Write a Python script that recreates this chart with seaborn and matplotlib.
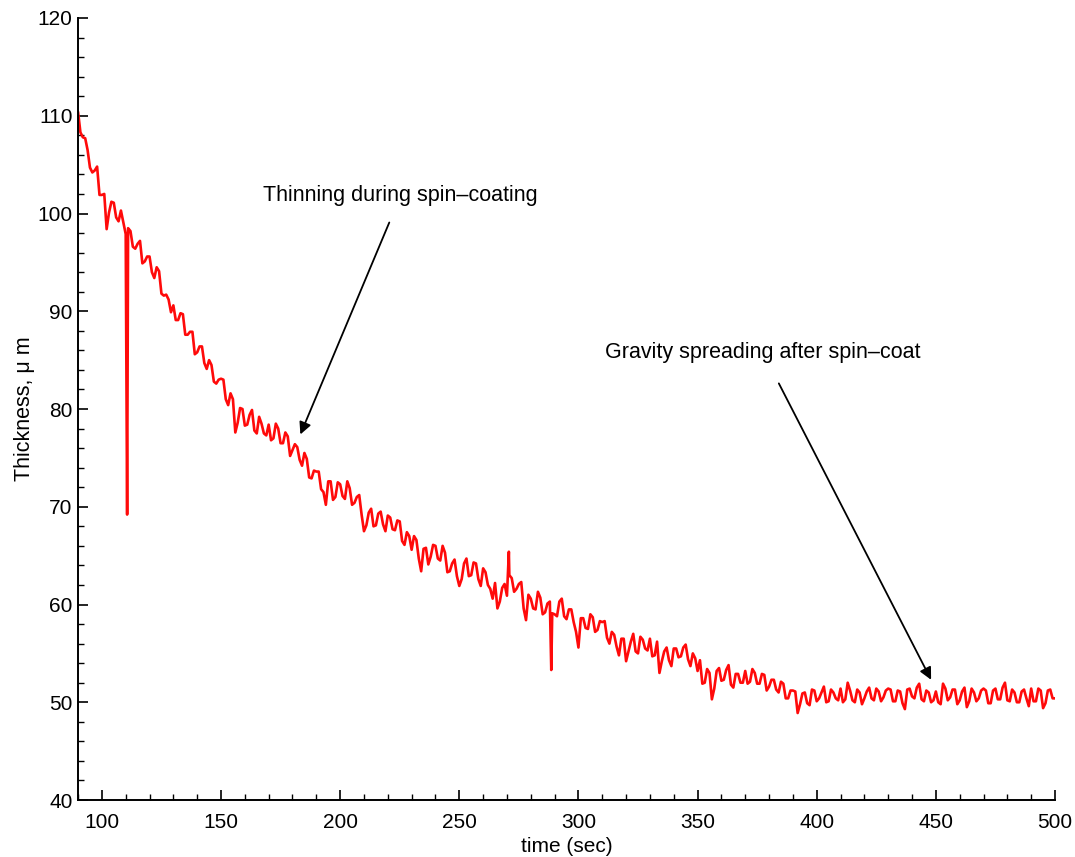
import numpy as np
import pandas as pd
import matplotlib
matplotlib.use("Agg")
import matplotlib.pyplot as plt
from matplotlib.ticker import MultipleLocator
import seaborn as sns

# ---- data (thickness in micrometres) ----
# samples at even seconds, 90 ... 500
t_even_start = 90
thickness_even = [
    110.4, 107.8, 106.5, 104.2, 104.8, 101.9, 98.4, 101.2, 99.6, 100.3,   # 90-108
    97.9, 98.2, 96.4, 97.2, 95.1, 95.6, 93.4, 94.1, 91.6, 91.2,          # 110-128
    90.6, 89.1, 89.7, 87.6, 87.9, 85.8, 86.4, 84.1, 84.5, 82.6,          # 130-148
    83.1, 81.0, 81.6, 77.6, 80.1, 78.3, 79.4, 77.8, 79.2, 77.5,          # 150-168
    78.4, 77.0, 78.0, 76.5, 77.2, 75.8, 76.1, 74.2, 74.9, 72.9,          # 170-188
    73.6, 71.8, 70.2, 72.6, 71.0, 72.3, 70.8, 71.9, 70.4, 71.2,          # 190-208
    67.5, 69.4, 68.0, 69.3, 68.2, 69.1, 67.7, 68.6, 66.5, 67.4,          # 210-228
    65.6, 66.6, 63.4, 65.8, 64.9, 66.0, 64.5, 65.3, 63.4, 64.6,          # 230-248
    61.9, 64.2, 62.9, 64.3, 62.6, 63.7, 62.0, 60.6, 59.6, 61.7,          # 250-268
    60.9, 62.7, 61.6, 62.3, 58.4, 60.6, 59.5, 60.7, 59.2, 60.3,          # 270-288
    59.0, 60.3, 58.8, 59.5, 58.2, 55.6, 58.6, 57.5, 58.7, 57.4,          # 290-308
    58.2, 56.6, 57.2, 55.7, 56.5, 54.2, 56.2, 55.2, 56.7, 55.5,          # 310-328
    56.5, 54.8, 53.0, 55.2, 54.3, 55.5, 54.6, 55.6, 54.4, 55.0,          # 330-348
    53.2, 51.9, 53.4, 50.3, 53.2, 52.2, 53.3, 51.8, 52.9, 52.0,          # 350-368
    53.2, 52.1, 53.0, 51.9, 52.8, 51.6, 52.3, 51.0, 51.9, 50.4,          # 370-388
    51.2, 48.9, 50.9, 49.9, 51.3, 50.1, 51.0, 50.0, 51.3, 50.4,          # 390-408
    51.4, 50.3, 51.2, 50.0, 51.0, 50.4, 51.5, 50.2, 51.1, 50.5,          # 410-428
    51.4, 50.1, 51.2, 49.9, 51.3, 50.6, 51.5, 50.3, 51.2, 50.0,          # 430-448
    51.1, 49.8, 51.4, 50.5, 51.3, 50.2, 51.5, 50.1, 51.0, 50.4,          # 450-468
    51.4, 49.9, 51.2, 50.3, 51.5, 50.2, 51.3, 50.0, 51.1, 50.4,          # 470-488
    51.4, 50.1, 51.2, 49.9, 51.3, 50.4,                                  # 490-500
]
# samples at odd seconds, 91 ... 499
t_odd_start = 91
thickness_odd = [
    108.3, 107.7, 104.7, 104.4, 101.9, 102.0, 100.1, 101.1, 99.2, 99.1,  # 91-109
    98.5, 96.6, 96.9, 94.9, 95.6, 94.0, 94.5, 91.8, 91.7, 89.9,          # 111-129
    89.1, 89.8, 87.6, 87.9, 85.6, 86.4, 84.7, 85.0, 82.8, 83.0,          # 131-149
    83.0, 80.4, 81.0, 78.6, 80.0, 78.4, 79.9, 77.5, 78.5, 77.3,          # 151-169
    76.8, 78.5, 76.5, 77.6, 75.2, 76.4, 74.8, 75.5, 73.0, 73.7,          # 171-189
    73.6, 71.5, 72.6, 70.7, 72.5, 71.1, 72.6, 70.2, 71.0, 69.2,          # 191-209
    68.1, 69.8, 68.1, 69.5, 67.5, 68.9, 67.6, 68.5, 66.1, 67.0,          # 211-229
    67.0, 64.7, 65.7, 64.1, 66.1, 64.7, 66.0, 63.3, 64.2, 62.9,          # 231-249
    62.6, 64.7, 63.0, 64.2, 61.9, 63.3, 61.6, 62.2, 60.3, 62.1,          # 251-269
    63.0, 61.3, 62.1, 59.6, 61.0, 59.6, 61.3, 59.0, 60.1, 59.1,          # 271-289
    58.8, 60.6, 58.5, 59.5, 57.2, 58.6, 57.6, 59.0, 57.2, 58.3,          # 291-309
    58.3, 56.0, 56.9, 54.8, 56.5, 55.2, 57.0, 55.0, 56.4, 55.3,          # 311-329
    54.7, 56.2, 54.2, 55.6, 53.7, 55.5, 54.7, 55.9, 53.7, 54.5,          # 331-349
    54.3, 52.0, 53.0, 51.4, 53.5, 52.3, 53.8, 51.5, 52.9, 52.0,          # 351-369
    51.9, 53.4, 51.9, 52.9, 51.2, 52.3, 51.3, 52.1, 50.4, 51.2,          # 371-389
    51.1, 49.8, 51.0, 49.7, 51.2, 50.4, 51.6, 50.1, 51.0, 50.2,          # 391-409
    50.0, 52.0, 50.2, 51.3, 49.8, 51.1, 50.4, 51.4, 50.1, 51.2,          # 411-429
    51.3, 50.1, 51.1, 49.3, 51.4, 50.4, 51.9, 50.1, 51.0, 50.2,          # 431-449
    50.0, 51.9, 50.2, 51.3, 49.8, 51.1, 49.5, 51.4, 50.1, 51.2,          # 451-469
    51.2, 49.9, 51.4, 50.3, 52.0, 50.1, 51.0, 50.0, 51.3, 49.6,          # 471-489
    50.1, 51.4, 49.4, 51.2, 50.4,                                        # 491-499
]
# single-sample spikes seen in the trace
spike_time = [110.6, 270.8, 288.6]
spike_value = [69.2, 65.4, 53.3]

x_ticks_major = [100, 150, 200, 250, 300, 350, 400, 450, 500]
y_ticks_major = [40, 50, 60, 70, 80, 90, 100, 110, 120]

label1 = "Thinning during spin\u2013coating"
label2 = "Gravity spreading after spin\u2013coat"

# ---- build table ----
time_even = t_even_start + 2 * np.arange(len(thickness_even))
time_odd = t_odd_start + 2 * np.arange(len(thickness_odd))
df = pd.DataFrame({
    "time": np.concatenate([time_even, time_odd, spike_time]).astype(float),
    "thickness": np.concatenate([thickness_even, thickness_odd, spike_value]),
})
df = df.sort_values("time").reset_index(drop=True)

sns.set_theme(style="ticks")
plt.rcParams["font.family"] = ["Liberation Sans", "DejaVu Sans"]
plt.rcParams["text.color"] = "black"

fig = plt.figure(figsize=(10.75, 8.57), dpi=100)
ax = fig.add_axes([0.0726, 0.0665, 0.9088, 0.9125])

sns.lineplot(data=df, x="time", y="thickness", ax=ax, color="#ff0a0a",
             linewidth=1.9, estimator=None, sort=True)

ax.set_xlim(90, 500)
ax.set_ylim(40, 120)
ax.set_xticks(x_ticks_major)
ax.set_yticks(y_ticks_major)
ax.xaxis.set_minor_locator(MultipleLocator(10))
ax.yaxis.set_minor_locator(MultipleLocator(2))
ax.tick_params(axis="both", which="major", direction="in", length=7, width=1.2,
               color="black", labelsize=15, labelcolor="black")
ax.tick_params(axis="x", which="major", pad=9)
ax.tick_params(axis="y", which="major", pad=4)
ax.tick_params(axis="both", which="minor", direction="in", length=4, width=1.0,
               color="black")
for s in ["top", "right"]:
    ax.spines[s].set_visible(False)
for s in ["left", "bottom"]:
    ax.spines[s].set_color("black")
    ax.spines[s].set_linewidth(1.4)

narrow = ["Liberation Sans Narrow", "Liberation Sans", "DejaVu Sans"]
ax.set_xlabel("time (sec)", fontsize=15, family=narrow, labelpad=4, color="black")
ax.set_ylabel("Thickness, \u03bc m", fontsize=15.5, family=narrow, labelpad=2,
              color="black")

ax.annotate(label1, xy=(183.3, 77.4), xytext=(225.3, 101.8),
            ha="center", va="center", fontsize=15.5, color="black",
            arrowprops=dict(arrowstyle="-|>", color="black", lw=1.3,
                            mutation_scale=18, shrinkA=10, shrinkB=0))
ax.annotate(label2, xy=(448, 52.3), xytext=(377.4, 85.8),
            ha="center", va="center", fontsize=15.5, color="black",
            arrowprops=dict(arrowstyle="-|>", color="black", lw=1.3,
                            mutation_scale=18, shrinkA=14, shrinkB=0))

fig.savefig("out.png", dpi=100)
